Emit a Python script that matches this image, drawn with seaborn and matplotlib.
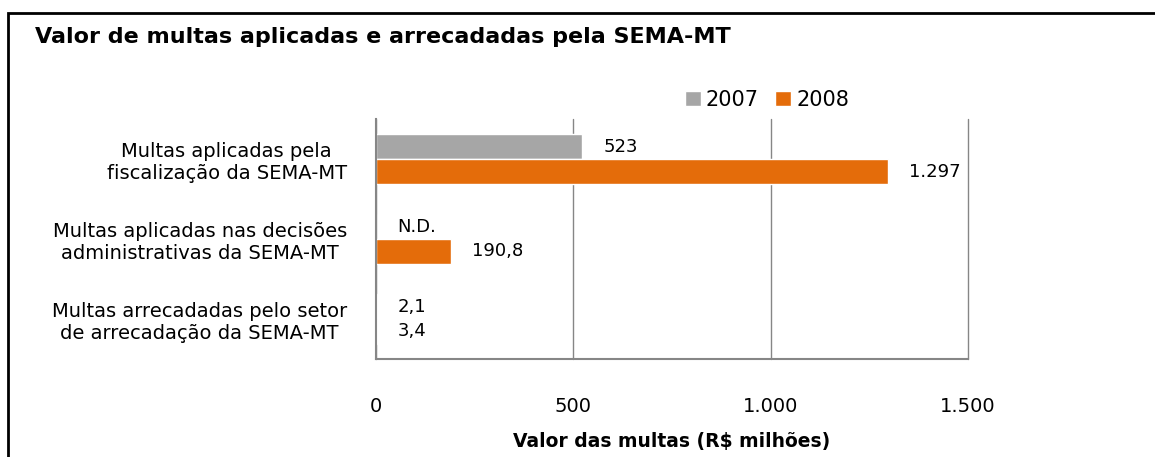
import matplotlib
matplotlib.use("Agg")
from matplotlib import pyplot as plt
from matplotlib.patches import Rectangle
import numpy as np
import pandas as pd
import seaborn as sns

# Data
categories = [
    "Multas aplicadas pela\nfiscalização da SEMA-MT",
    "Multas aplicadas nas decisões\nadministrativas da SEMA-MT",
    "Multas arrecadadas pelo setor\nde arrecadação da SEMA-MT",
]
years = ["2007", "2008"]
values_2007 = [523, np.nan, 2.1]   # N.D. = not available
values_2008 = [1297, 190.8, 3.4]
labels_2007 = ["523", "N.D.", "2,1"]
labels_2008 = ["1.297", "190,8", "3,4"]
x_ticks = [0, 500, 1000, 1500]
x_tick_labels = ["0", "500", "1.000", "1.500"]

title = "Valor de multas aplicadas e arrecadadas pela SEMA-MT"
x_label = "Valor das multas (R$ milhões)"

colors = {"2007": "#A6A6A6", "2008": "#E46C0A"}
axis_gray = "#868686"

df = pd.DataFrame({
    "Categoria": categories * 2,
    "Ano": [years[0]] * 3 + [years[1]] * 3,
    "Valor": values_2007 + values_2008,
})
df["Valor"] = df["Valor"].fillna(0)

sns.set_style("white")
plt.rcParams["font.family"] = ["DejaVu Sans"]
plt.rcParams["text.color"] = "black"
plt.rcParams["xtick.color"] = "black"
plt.rcParams["ytick.color"] = "black"
plt.rcParams["axes.labelcolor"] = "black"

fig = plt.figure(figsize=(11.55, 4.57), dpi=100)
ax = fig.add_axes([376 / 1155, 1 - 359 / 457, (968 - 376) / 1155, (359 - 119) / 457])

sns.barplot(
    data=df, y="Categoria", x="Valor", hue="Ano", orient="h",
    palette=colors, width=0.625, saturation=1, ax=ax, legend=True,
)

# value labels
for container, labels in zip(ax.containers, [labels_2007, labels_2008]):
    ax.bar_label(container, labels=labels, padding=15, fontsize=13, color="black")

ax.set_xlim(0, 1500)
ax.set_ylim(2.5, -0.5)
ax.set_xticks(x_ticks)
ax.set_xticklabels(x_tick_labels)
ax.set_yticks(range(len(categories)))
ax.set_yticks([-0.5, 0.5, 1.5, 2.5], minor=True)
ax.set_yticklabels(categories)
for lbl in ax.get_yticklabels():
    lbl.set_multialignment("center")

ax.tick_params(axis="y", which="major", length=0, pad=21, labelsize=14)
ax.tick_params(axis="y", which="minor", length=5, width=1.5, color=axis_gray, direction="out")
ax.tick_params(axis="x", length=5, width=1.5, color=axis_gray, direction="out", pad=22, labelsize=14)

ax.grid(True, axis="x", color=axis_gray, linewidth=1)
for gl in ax.get_xgridlines():
    gl.set_clip_on(False)
ax.set_axisbelow(True)
for side in ["top", "right"]:
    ax.spines[side].set_visible(False)
for side in ["left", "bottom"]:
    ax.spines[side].set_color(axis_gray)
    ax.spines[side].set_linewidth(1.5)

ax.set_ylabel("")
ax.set_xlabel(x_label, fontsize=13.5, fontweight="bold", labelpad=12)

ax.legend(
    loc="center", bbox_to_anchor=(767 / 1155, 1 - 100 / 457), bbox_transform=fig.transFigure,
    ncol=2, frameon=False, fontsize=15, handlelength=0.75, handleheight=0.75,
    handletextpad=0.25, columnspacing=0.8, borderpad=0,
)

fig.text(35 / 1155, 1 - 37 / 457, title, fontsize=16, fontweight="bold", va="center", ha="left")

# outer frame (left and top edges visible)
fig.patches.append(Rectangle((8 / 1155, -0.2), 2, 1.2 - 13 / 457, transform=fig.transFigure,
                             fill=False, edgecolor="black", linewidth=2))

fig.savefig("out.png", dpi=100)
